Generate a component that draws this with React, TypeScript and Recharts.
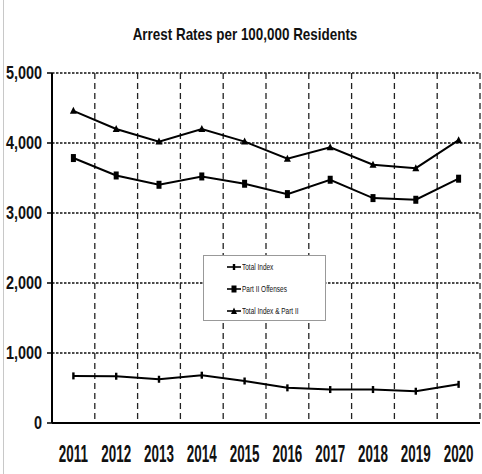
import { ComposedChart, Line, XAxis, YAxis, CartesianGrid } from 'recharts';

const years = [2011, 2012, 2013, 2014, 2015, 2016, 2017, 2018, 2019, 2020];
const totalIndex = [673, 668, 625, 683, 600, 502, 478, 478, 454, 552];
const partII = [3785, 3536, 3403, 3522, 3418, 3270, 3475, 3213, 3189, 3490];
const combined = [4460, 4200, 4020, 4200, 4020, 3775, 3940, 3690, 3640, 4040];
const yTicks = [0, 1000, 2000, 3000, 4000, 5000];
const boundaryTicks = [...years.map((y) => y - 0.5), years[years.length - 1] + 0.5];

const data = years.map((year, i) => ({
  year,
  totalIndex: totalIndex[i],
  partII: partII[i],
  combined: combined[i],
}));

const FONT = '"Liberation Sans", Arial, sans-serif';

// condensed / stretched tick text, since no narrow font is installed
const NarrowTick = (props: any) => {
  const { x, y, payload, textAnchor, orientation, tickFormatter } = props;
  const label = tickFormatter ? tickFormatter(payload.value) : String(payload.value);
  const bottom = orientation === 'bottom';
  const sx = bottom ? 0.79 : 0.85;
  const sy = bottom ? 1.37 : 1.04;
  const by = bottom ? y + 23.5 : y + 6.3;
  return (
    <text
      transform={`translate(${x},${by}) scale(${sx},${sy})`}
      textAnchor={textAnchor}
      fill="#111"
      fontFamily={FONT}
      fontWeight="bold"
      fontSize={17}
    >
      {label}
    </text>
  );
};

const TickDot = (props: any) => {
  const { cx, cy, key } = props;
  if (cx == null || cy == null) return null;
  return <rect key={key} x={cx - 1.2} y={cy - 3.5} width={2.4} height={7} fill="#000" />;
};

const SquareDot = (props: any) => {
  const { cx, cy, key } = props;
  if (cx == null || cy == null) return null;
  return <rect key={key} x={cx - 2.5} y={cy - 4} width={5} height={8} fill="#000" />;
};

const TriDot = (props: any) => {
  const { cx, cy, key } = props;
  if (cx == null || cy == null) return null;
  return <path key={key} d={`M${cx},${cy - 4} L${cx + 3.5},${cy + 3} L${cx - 3.5},${cy + 3} Z`} fill="#000" />;
};

const legendItems = [
  { label: 'Total Index', marker: 'tick' },
  { label: 'Part II Offenses', marker: 'square' },
  { label: 'Total Index & Part II', marker: 'tri' },
];

const LegendBox = () => (
  <div
    style={{
      position: 'absolute',
      left: 203,
      top: 255,
      width: 121,
      height: 64,
      border: '1px solid #999',
      background: '#fff',
      fontFamily: FONT,
      fontSize: 9,
      color: '#111',
    }}
  >
    {legendItems.map((it, i) => (
      <div key={it.label} style={{ position: 'absolute', left: 22, top: 6 + i * 22, display: 'flex', alignItems: 'center', whiteSpace: 'nowrap' }}>
        <svg width={16} height={10}>
          <line x1={1} y1={5} x2={15} y2={5} stroke="#000" strokeWidth={1.6} />
          {it.marker === 'tick' && <rect x={6.8} y={2} width={2.4} height={6} fill="#000" />}
          {it.marker === 'square' && <rect x={5.5} y={1.5} width={5} height={7} fill="#000" />}
          {it.marker === 'tri' && <path d="M8,1.5 L11,8 L5,8 Z" fill="#000" />}
        </svg>
        <span style={{ display: 'inline-block', transform: 'scaleX(0.72)', transformOrigin: 'left center' }}>{it.label}</span>
      </div>
    ))}
  </div>
);

export default function App() {
  return (
    <div style={{ position: 'absolute', left: 0, top: 0, width: 482, height: 474, background: '#fff', overflow: 'hidden' }}>
      <div style={{ position: 'absolute', left: 3, top: 0, width: 1, height: 474, background: '#c8c8c8' }} />
      <div
        style={{
          position: 'absolute',
          left: 0,
          width: 490,
          top: 25,
          textAlign: 'center',
          fontFamily: FONT,
          fontWeight: 'bold',
          fontSize: 17,
          color: '#111',
          transform: 'scaleX(0.79)',
          transformOrigin: '245px 0',
        }}
      >
        Arrest Rates per 100,000 Residents
      </div>
      <ComposedChart width={482} height={474} data={data} margin={{ top: 73, right: 2, bottom: 0, left: 0 }}>
        <CartesianGrid horizontal vertical={false} stroke="#111" strokeWidth={1.5} strokeDasharray="2.5 1.5" />
        <CartesianGrid xAxisId="b" horizontal={false} vertical stroke="#222" strokeWidth={1.3} strokeDasharray="6 4" />
        <XAxis
          xAxisId="b"
          dataKey="year"
          type="number"
          domain={[2010.5, 2020.5]}
          ticks={boundaryTicks}
          height={0}
          axisLine={false}
          tickLine={{ stroke: '#000', strokeWidth: 1.5 }}
          tickSize={6}
          tickFormatter={() => ''}
        />
        <XAxis
          dataKey="year"
          type="number"
          domain={[2010.5, 2020.5]}
          ticks={years}
          height={51}
          axisLine={{ stroke: '#000', strokeWidth: 2 }}
          tickLine={false}
          tickSize={0}
          tickMargin={15}
          tick={<NarrowTick />}
        />
        <YAxis
          domain={[0, 5000]}
          ticks={yTicks}
          width={52}
          axisLine={{ stroke: '#000', strokeWidth: 2 }}
          tickLine={{ stroke: '#000', strokeWidth: 1.5 }}
          tickSize={5}
          tickMargin={5}
          tickFormatter={(v: number) => v.toLocaleString('en-US')}
          tick={<NarrowTick />}
        />
        <Line dataKey="totalIndex" name="Total Index" stroke="#000" strokeWidth={2} dot={TickDot} activeDot={false} isAnimationActive={false} />
        <Line dataKey="partII" name="Part II Offenses" stroke="#000" strokeWidth={2} dot={SquareDot} activeDot={false} isAnimationActive={false} />
        <Line dataKey="combined" name="Total Index & Part II" stroke="#000" strokeWidth={2} dot={TriDot} activeDot={false} isAnimationActive={false} />
      </ComposedChart>
      <LegendBox />
    </div>
  );
}
